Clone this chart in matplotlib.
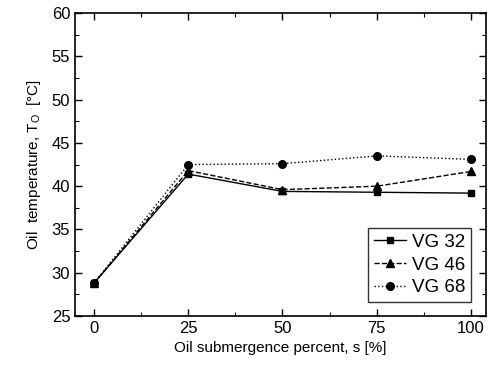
import matplotlib
matplotlib.use("Agg")
import matplotlib.pyplot as plt
from matplotlib.ticker import MultipleLocator

plt.rcParams['font.family'] = ['Liberation Sans', 'DejaVu Sans']
plt.rcParams['mathtext.fontset'] = 'custom'
plt.rcParams['mathtext.rm'] = 'Liberation Sans'

s_pct = [0, 25, 50, 75, 100]
vg32 = [28.8, 41.4, 39.4, 39.3, 39.2]
vg46 = [28.8, 41.8, 39.6, 40.0, 41.7]
vg68 = [28.8, 42.5, 42.6, 43.5, 43.1]
labels = ['VG 32', 'VG 46', 'VG 68']

fig = plt.figure(figsize=(4.88, 3.74), dpi=100)
ax = fig.add_axes([0.154, 0.155, 0.842, 0.810])

ax.plot(s_pct, vg32, '-', marker='s', color='black', lw=1.0, ms=5, label=labels[0])
ax.plot(s_pct, vg46, '--', marker='^', color='black', lw=1.0, ms=5.5, label=labels[1])
ax.plot(s_pct, vg68, ':', marker='o', color='black', lw=1.0, ms=5.5, label=labels[2])

ax.set_xlim(-5, 104)
ax.set_ylim(25, 60)
ax.xaxis.set_major_locator(MultipleLocator(25))
ax.xaxis.set_minor_locator(MultipleLocator(12.5))
ax.yaxis.set_major_locator(MultipleLocator(5))
ax.yaxis.set_minor_locator(MultipleLocator(2.5))
ax.tick_params(which='both', direction='in', top=True, right=True, labelsize=12)
ax.tick_params(which='major', length=5, width=1)
ax.tick_params(which='minor', length=3, width=0.8)
for sp in ax.spines.values():
    sp.set_linewidth(1.2)

ax.set_xlabel('Oil submergence percent, s [%]', fontsize=11, labelpad=4)
ax.set_ylabel(r'Oil  temperature, T$_\mathregular{O}$  [°C]', fontsize=11, labelpad=6)

leg = ax.legend(loc='lower right', fontsize=13.5, frameon=True, fancybox=False,
                edgecolor='black', handlelength=1.7, handletextpad=0.3,
                borderpad=0.3, labelspacing=0.3, bbox_to_anchor=(0.985, 0.015))
leg.get_frame().set_linewidth(1.0)

fig.savefig('out.png', dpi=100)
